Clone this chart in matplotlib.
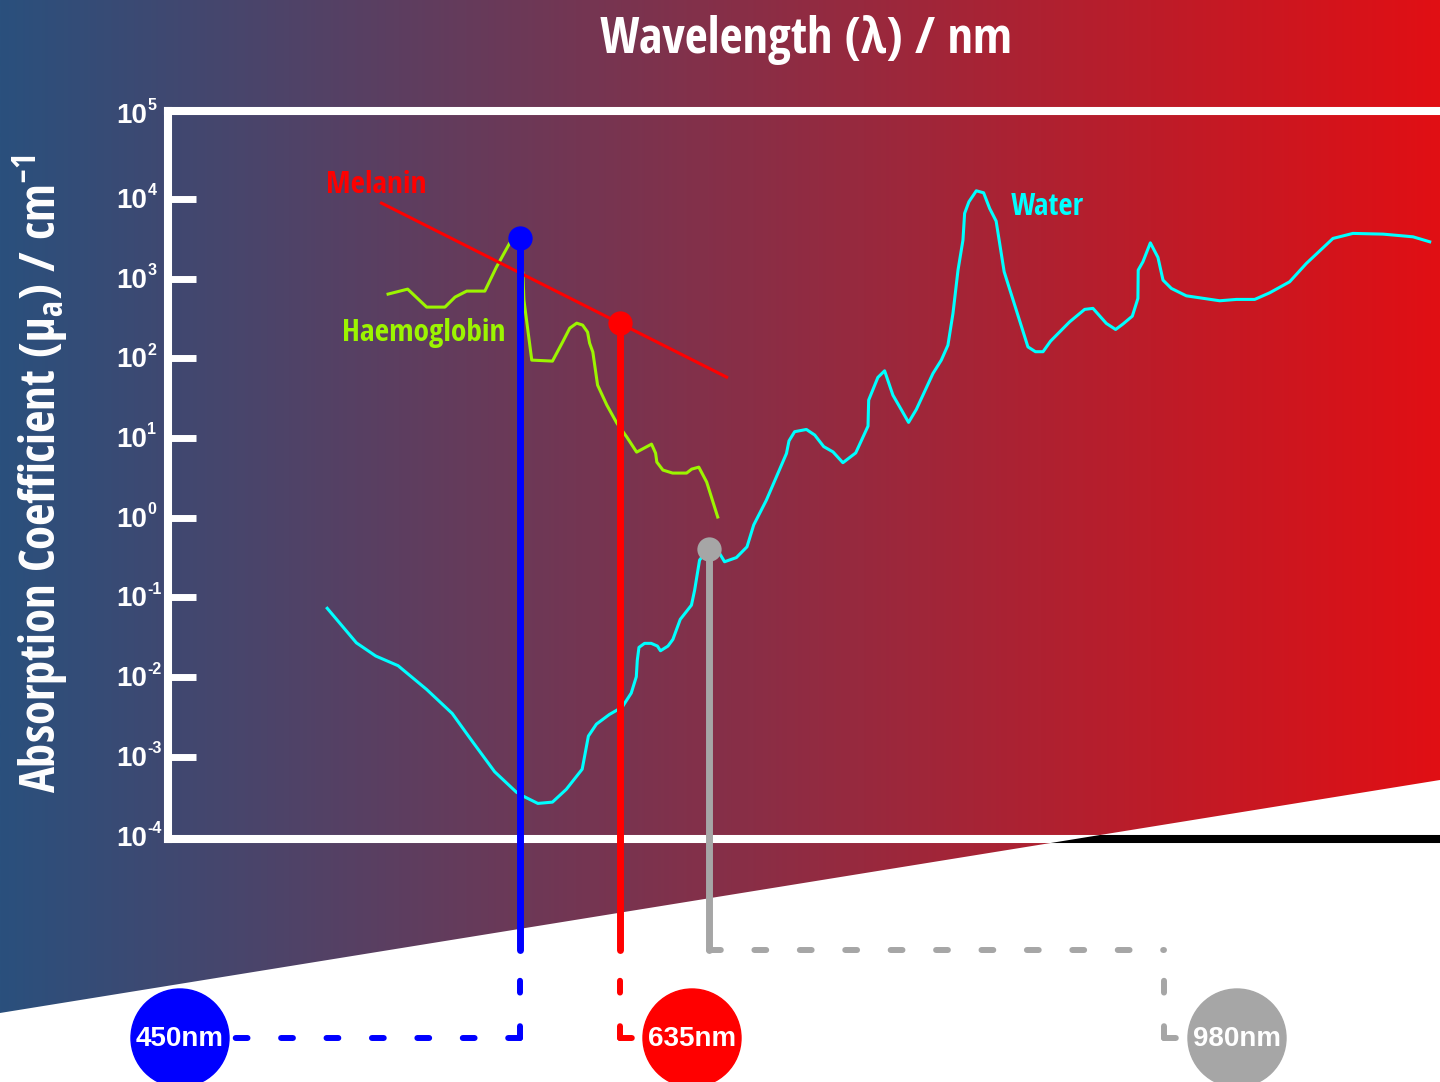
import numpy as np
import matplotlib
matplotlib.use('Agg')
import matplotlib.pyplot as plt
from matplotlib import font_manager
from matplotlib.patches import Polygon, Circle
from matplotlib.ticker import NullLocator

# water absorption (nm, 1/cm)
water_nm = [204, 230, 249, 273, 307, 341, 369, 406, 444, 457, 485, 515, 545, 582, 597,
            617, 651, 686, 712, 727, 730, 735, 752, 773, 793, 803, 828, 845, 871, 912,
            924, 943, 979, 1024, 1045, 1097, 1146, 1178, 1241, 1348, 1362, 1394, 1463,
            1514, 1571, 1632, 1700, 1792, 1885, 1890, 1963, 2018, 2088, 2147, 2227, 2299,
            2462, 2548, 2618, 2673, 2729, 2785, 2804, 2854, 2942, 3032, 3108, 3192, 3299,
            3638, 3752, 3871, 3992, 4319, 4594, 4753, 5022, 5217, 5376, 5588, 5718, 5725,
            5837, 6018, 6209, 6339, 6561, 6977, 8004, 8571, 9242, 9829, 10670, 11430,
            12750, 13840, 15660, 17720, 18980]
water_mu = [0.073, 0.0269, 0.0184, 0.0139, 0.0070, 0.0035, 0.00162, 0.00065, 0.00036,
            0.00032, 0.00026, 0.00027, 0.00039, 0.00070, 0.00182, 0.00257, 0.0034, 0.0042,
            0.0063, 0.0101, 0.0163, 0.0236, 0.0265, 0.0265, 0.0245, 0.0214, 0.0245, 0.0297,
            0.053, 0.080, 0.123, 0.294, 0.41, 0.356, 0.28, 0.316, 0.431, 0.81, 1.66, 6.4,
            9.2, 12.0, 12.8, 10.9, 7.8, 6.7, 4.9, 6.5, 14.1, 29.9, 57.6, 69.7, 34.5, 24.6,
            15.7, 22.8, 64.6, 95, 146, 366, 1280, 3040, 6580, 9200, 12640, 11930, 7600,
            5270, 1220, 139, 121, 121, 164, 287, 411, 423, 274, 230, 269, 338, 564, 1280,
            1625, 2810, 1845, 958, 753, 608, 527, 548, 548, 663, 912, 1550, 3190, 3690,
            3615, 3345, 2895]

# haemoglobin
hb_nm = [262, 284, 307, 331, 345, 362, 390, 409, 432, 444, 456, 458, 473, 515, 537, 553,
         569, 583, 595, 600, 608, 620, 644, 671, 699, 728, 774, 787, 791, 811, 844, 894,
         913, 940, 971, 1016]
hb_mu = [639, 738, 439, 439, 586, 697, 697, 1394, 2790, 3415, 1172, 537, 94.9, 92.2, 160,
         239, 276, 261, 213, 155, 120, 46.1, 25.9, 15.4, 10.3, 6.65, 8.38, 6.46, 4.99,
         3.96, 3.63, 3.63, 4.07, 4.31, 2.80, 1.02]

# melanin (straight line on log-log)
mel_nm = [255, 1054]
mel_mu = [8860, 58]

# the three highlighted wavelengths (dots placed as in the figure)
marker_nm = [450, 680, 980]
marker_mu = [3220, 276, 0.41]
marker_labels = ['450nm', '635nm', '980nm']
marker_colors = ['#0000ff', '#ff0000', '#a6a6a6']

ytick_exp = list(range(-4, 6))

W, H = 1440, 1082
plt.rcParams['lines.scale_dashes'] = False

avail = {f.name for f in font_manager.fontManager.ttflist}
cond = next((n for n in ['Open Sans Condensed', 'Liberation Sans Narrow',
                         'Roboto Condensed'] if n in avail), 'DejaVu Sans')
cfont = dict(family=[cond, 'DejaVu Sans'], weight='bold', stretch='condensed')
afont = dict(family=['Liberation Sans', 'DejaVu Sans'], weight='bold')

fig = plt.figure(figsize=(W / 100, H / 100), dpi=100)

# background: horizontal blue -> red gradient, white wedge at the bottom
bg = fig.add_axes([0, 0, 1, 1], zorder=0)
t = np.linspace(0, 1, 512)[None, :, None]
c_left = np.array([42, 80, 125]) / 255
c_right = np.array([225, 15, 20]) / 255
bg.imshow(c_left * (1 - t) + c_right * t, extent=[0, W, H, 0], aspect='auto')
wedge = Polygon([(0, 1013), (W, 780), (W, H), (0, H)], closed=True, fc='white', ec='none')
bg.add_patch(wedge)
bg.set_xlim(0, W)
bg.set_ylim(H, 0)
bg.axis('off')

# main axes: 79.7 px per decade, 1e-4 sits on the lower frame
top_px, bot_px, dec_px = 110.7, 838.5, 79.7
ax = fig.add_axes([168 / W, (H - bot_px) / H, (W - 168) / W, (bot_px - top_px) / H], zorder=1)
ax.patch.set_alpha(0)
ax.set_xscale('log')
ax.set_yscale('log')
ax.set_xlim(106, 19800)
ax.set_ylim(10 ** (-4 - 2.0 / dec_px), 10 ** (-4 - 2.0 / dec_px + (bot_px - top_px) / dec_px))
ax.xaxis.set_major_locator(NullLocator())
ax.xaxis.set_minor_locator(NullLocator())
ax.yaxis.set_minor_locator(NullLocator())
ax.spines['right'].set_visible(False)
for s in ['left', 'top', 'bottom']:
    ax.spines[s].set_color('white')
    ax.spines[s].set_linewidth(5.8)
    ax.spines[s].set_capstyle('projecting')

ax.set_yticks([10.0 ** e for e in ytick_exp[1:-1]])
ax.set_yticklabels([])
ax.tick_params(axis='y', direction='in', length=20, width=5, color='white')

ax.plot(water_nm, water_mu, color='#00ffff', lw=2.2, zorder=3)
ax.plot(hb_nm, hb_mu, color='#9cf500', lw=2.2, zorder=3)
ax.plot(mel_nm, mel_mu, color='#ff0000', lw=2.2, zorder=3)

t_water = ax.text(3945, 7890, 'Water', color='#00ffff', ha='center', va='center',
                  fontsize=20, **cfont)
t_mel = ax.text(250, 15000, 'Melanin', color='#ff0000', ha='center', va='center',
                fontsize=20, **cfont)
t_hb = ax.text(304, 205, 'Haemoglobin', color='#9cf500', ha='center', va='center',
               fontsize=20, **cfont)

# overlay in pixel coordinates
fg = fig.add_axes([0, 0, 1, 1], zorder=2)
fg.patch.set_alpha(0)
fg.set_xlim(0, W)
fg.set_ylim(H, 0)
fg.axis('off')
to_fg = fg.transData.inverted()

# the lower frame turns black where it runs over the white wedge
blk, = fg.plot([160, W], [bot_px, bot_px], color='black', lw=5.8, solid_capstyle='butt',
               zorder=1)
blk.set_clip_path(wedge)

# y tick labels: "10" plus a small raised exponent
for e in ytick_exp:
    _, py = to_fg.transform(ax.transData.transform((1000, 10.0 ** e)))
    if e == 5:
        py = 114
    fg.text(147, py + 2, '10', color='white', ha='right', va='center', fontsize=20, **afont)
    fg.text(147.5, py - 8, str(e), color='white', ha='left', va='center', fontsize=11.5,
            **afont)

title = fg.text(806, 40, 'Wavelength (λ) / nm', color='white', ha='center', va='center',
                fontsize=32, **cfont)
ylab = fg.text(40, 474, 'Absorption Coefficient (μ$_\\mathregular{a}$) / cm$^\\mathregular{-1}$',
               color='white', ha='center', va='center', rotation=90, fontsize=36, **cfont)

renderer = fig.canvas.get_renderer()


def fit(txt, target, vertical=False):
    bb = txt.get_window_extent(renderer)
    size = bb.height if vertical else bb.width
    txt.set_fontsize(txt.get_fontsize() * target / size)


fit(title, 413)
fit(ylab, 638, vertical=True)
fit(t_water, 73)
fit(t_mel, 100)
fit(t_hb, 163)

stem_end, label_y, r = 950, 1038, 49
circle_x = [180, 692, 1237]
bend_x = [None, None, 1164]
dash = dict(lw=4.3, linestyle=(0, (8.5, 24.2)), dash_capstyle='round')

for nm, mu, lab, col, cx, bx in zip(marker_nm, marker_mu, marker_labels, marker_colors,
                                    circle_x, bend_x):
    px, py = to_fg.transform(ax.transData.transform((nm, mu)))
    fg.plot([px, px], [py, stem_end], color=col, lw=5, solid_capstyle='round', zorder=3)
    fg.plot(px, py, 'o', ms=17.5, color=col, mec='none', zorder=4)
    if bx is None:
        bx = px
    else:
        fg.plot([px, bx], [stem_end, stem_end], color=col, **dash)
    fg.plot([bx, bx], [label_y, stem_end], color=col, **dash)
    end = cx + r + 3 if cx < bx else cx - r
    fg.plot([bx, end], [label_y, label_y], color=col, **dash)
    fg.add_patch(Circle((cx, label_y), r, color=col, zorder=5))
    fg.text(cx, label_y + 1, lab, color='white', ha='center', va='center', fontsize=20,
            zorder=6, **afont)

fig.savefig('out.png', dpi=100)
